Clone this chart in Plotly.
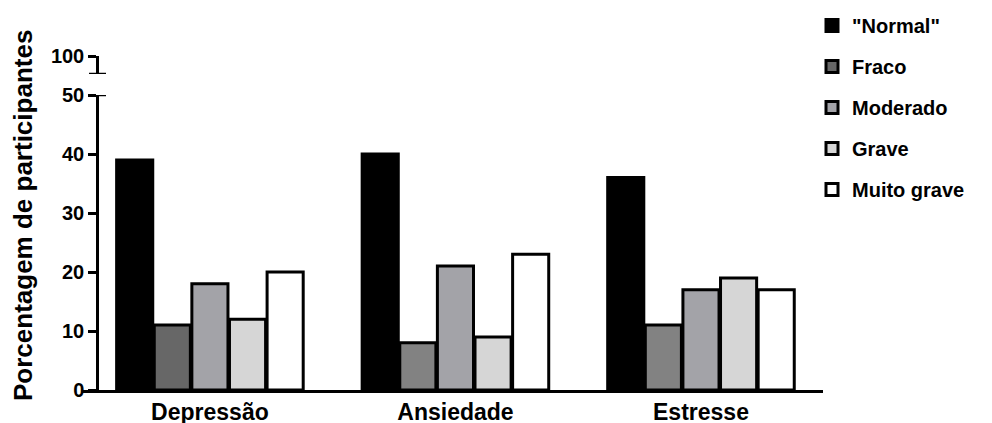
import plotly.graph_objects as go

categories = ["Depressão", "Ansiedade", "Estresse"]
series_names = ['"Normal"', "Fraco", "Moderado", "Grave", "Muito grave"]
normal = [39, 40, 36]
fraco = [11, 8, 11]
moderado = [18, 21, 17]
grave = [12, 9, 19]
muito_grave = [20, 23, 17]
y_ticks_low = [0, 10, 20, 30, 40, 50]
y_ticks_high = [100]

values = [normal, fraco, moderado, grave, muito_grave]
colors = [
    "#000000",
    ["#676767", "#828282", "#828282"],
    "#a3a3a8",
    "#d6d6d6",
    "#ffffff",
]

FONT = "Liberation Sans, Arial, sans-serif"

# page body has an 8px margin: work in screen coordinates minus OFF
OFF = 8
W, H = 992 - OFF, 423
L, R = 82 - OFF, 823 - OFF
T, B = 56 - OFF, 390 - OFF
pw, ph = R - L, B - T


def px(x):
    return (x - OFF - L) / pw


def py(y):
    return (B - (y - OFF)) / ph


ypos = px(97)

fig = go.Figure()
for i, (name, vals) in enumerate(zip(series_names, values)):
    fig.add_trace(go.Bar(
        x=categories, y=vals, name=name,
        marker=dict(color=colors[i], line=dict(color="black", width=3)),
        legendgroup=name,
    ))
# empty trace to activate upper (broken) axis segment
fig.add_trace(go.Scatter(x=[], y=[], yaxis="y2", showlegend=False, hoverinfo="skip"))

low_top = py(95)
high_bot = py(74)

tickfont = dict(size=20, family=FONT, weight="bold", color="black")

fig.update_layout(
    width=W, height=H,
    margin=dict(l=L, r=W - R, t=T, b=H - B, autoexpand=False),
    paper_bgcolor="white", plot_bgcolor="white",
    barmode="group", bargap=0.234, bargroupgap=0.04,
    font=dict(family=FONT, color="black"),
    xaxis=dict(
        range=[-0.521, 2.497], showline=True, linecolor="black", linewidth=2.5,
        ticks="", showgrid=False, zeroline=False, automargin=False,
        tickfont=dict(size=23, family=FONT, weight="bold", color="black"),
    ),
    yaxis=dict(
        domain=[0, low_top], range=[0, 50], anchor="free", position=ypos,
        tickvals=y_ticks_low, showline=True, linecolor="black", linewidth=2.5,
        ticks="outside", ticklen=8, tickwidth=2.5, tickcolor="black",
        showgrid=False, zeroline=False, automargin=False, tickfont=tickfont,
    ),
    yaxis2=dict(
        domain=[high_bot, 1], range=[90, 100], anchor="free", position=ypos,
        tickvals=y_ticks_high, showline=True, linecolor="black", linewidth=2.5,
        ticks="outside", ticklen=8, tickwidth=2.5, tickcolor="black",
        showgrid=False, zeroline=False, automargin=False, tickfont=tickfont,
    ),
    legend=dict(
        x=px(812), xanchor="left", y=py(6), yanchor="top",
        font=dict(size=20, family=FONT, weight="bold", color="black"),
        tracegroupgap=12, itemwidth=30, bgcolor="rgba(0,0,0,0)",
    ),
    showlegend=True,
)

# axis break marks
for yref, yv in (("y", 50), ("y2", 90)):
    fig.add_shape(type="line", xref="paper", yref=yref,
                  x0=px(89), x1=px(106), y0=yv, y1=yv,
                  line=dict(color="black", width=2.5))

fig.add_annotation(
    text="Porcentagem de participantes", textangle=-90,
    xref="paper", yref="paper", x=px(23), y=py(216),
    xanchor="center", yanchor="middle", showarrow=False,
    font=dict(size=26, family=FONT, weight="bold", color="black"),
)

fig.write_html("out.html")
